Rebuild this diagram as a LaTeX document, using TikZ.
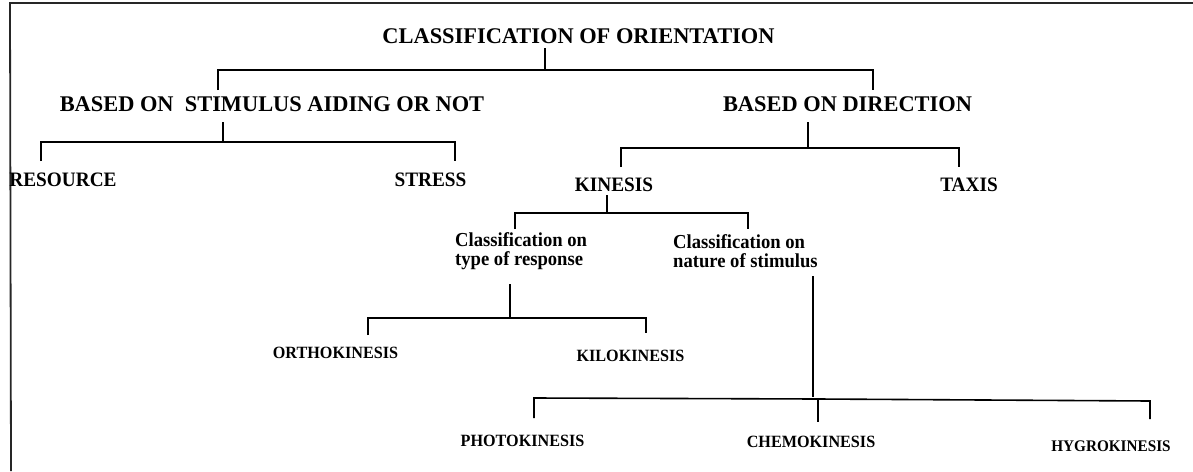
\documentclass[tikz,border=0pt]{standalone}
\usepackage{fontspec}
\setmainfont{Liberation Serif}
\newfontfamily\tnr{Liberation Serif}
\newfontfamily\tnrn{Liberation Serif}[FakeStretch=0.94]
\begin{document}
\begin{tikzpicture}[x=1pt,y=-1pt,
  big/.style={inner sep=0pt, font=\tnr\bfseries\fontsize{22.4}{22.4}\selectfont},
  lbl/.style={inner sep=0pt, font=\tnrn\bfseries\fontsize{#1}{#1}\selectfont},
  lbl/.default=20.5,
  two/.style={inner sep=0pt, anchor=west, align=left, font=\tnrn\bfseries\fontsize{19.8}{19.5}\selectfont},
  ln/.style={line width=1.6pt, black},
  frame/.style={line width=1.8pt, black!85}]
\useasboundingbox (0,0) rectangle (1193,471);
% frame
\coordinate (f1) at (10,3);
\coordinate (f2) at (1193,3);
\coordinate (f3) at (11,471);
\draw[frame] (f2) -- (f1) -- (f3);

% nodes
\node[big] (title) at (578.5,36) {CLASSIFICATION OF ORIENTATION};
\node[big] (stim) at (272,104) {BASED ON\ \ STIMULUS AIDING OR NOT};
\node[big] (dir) at (847.5,104) {BASED ON DIRECTION};
\node[lbl] (res) at (63,180) {RESOURCE};
\node[lbl] (str) at (430.5,180) {STRESS};
\node[lbl] (kin) at (614,185) {KINESIS};
\node[lbl] (tax) at (969,185) {TAXIS};
\node[two] (c1) at (455,251) {Classification on\\type of response};
\node[two] (c2) at (673,251) {Classification on\\nature of stimulus};
\node[lbl=17.2] (ortho) at (335.5,353) {ORTHOKINESIS};
\node[lbl=17.2] (kilo) at (630.5,356) {KILOKINESIS};
\node[lbl=17.2] (photo) at (522.5,441) {PHOTOKINESIS};
\node[lbl=17.2] (chemo) at (811,442) {CHEMOKINESIS};
\node[lbl=16.2] (hygro) at (1111,446) {HYGROKINESIS};

% junction coordinates
\coordinate (t0) at (545,48);  \coordinate (t1) at (545,70);
\coordinate (tl) at (218,70);  \coordinate (tr) at (873,70);
\coordinate (tld) at (218,90); \coordinate (trd) at (873,90);

\coordinate (s0) at (223,122); \coordinate (s1) at (223,142);
\coordinate (sl) at (41,142);  \coordinate (sr) at (455,142);
\coordinate (sld) at (41,161); \coordinate (srd) at (455,161);

\coordinate (d0) at (808,122); \coordinate (d1) at (808,148);
\coordinate (dl) at (621,148); \coordinate (dr) at (959,148);
\coordinate (dld) at (621,167); \coordinate (drd) at (959,167);

\coordinate (k0) at (607,195); \coordinate (k1) at (607,213);
\coordinate (kl) at (515,213); \coordinate (kr) at (748,213);
\coordinate (kld) at (515,229); \coordinate (krd) at (748,229);

\coordinate (a0) at (510,284); \coordinate (a1) at (510,318);
\coordinate (al) at (368,318); \coordinate (ar) at (646,318);
\coordinate (ald) at (368,335); \coordinate (ard) at (646,333);

\coordinate (b0) at (813,276); \coordinate (b1) at (813,397);
\coordinate (bl) at (534,398); \coordinate (bm) at (818,399); \coordinate (br) at (1150,401);
\coordinate (bld) at (534,418); \coordinate (bmd) at (818,422); \coordinate (brd) at (1150,419);

% connectors
\draw[ln] (t0) -- (t1);
\draw[ln] (tld) -- (tl) -- (tr) -- (trd);
\draw[ln] (s0) -- (s1);
\draw[ln] (sld) -- (sl) -- (sr) -- (srd);
\draw[ln] (d0) -- (d1);
\draw[ln] (dld) -- (dl) -- (dr) -- (drd);
\draw[ln] (k0) -- (k1);
\draw[ln] (kld) -- (kl) -- (kr) -- (krd);
\draw[ln] (a0) -- (a1);
\draw[ln] (ald) -- (al) -- (ar) -- (ard);
\draw[ln] (b0) -- (b1);
\draw[ln] (bld) -- (bl) -- (bm) -- (br) -- (brd);
\draw[ln] (bm) -- (bmd);
\end{tikzpicture}
\end{document}
